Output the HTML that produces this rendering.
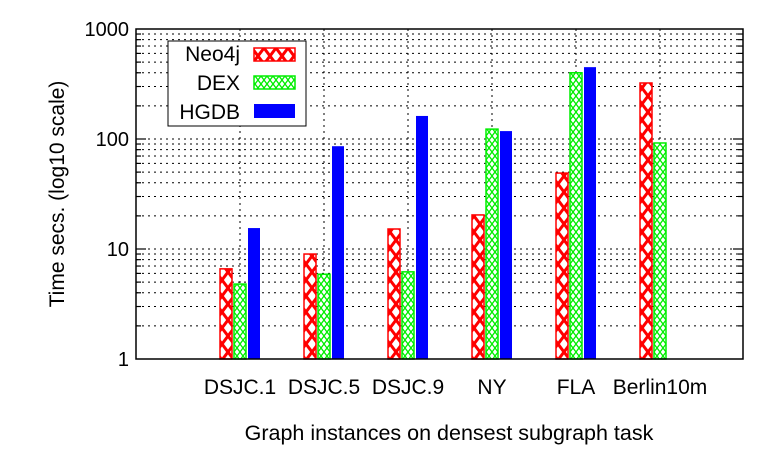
<!DOCTYPE html>
<html><head><meta charset="utf-8"><style>
body{margin:0;background:#fff;}
svg text{font-family:"Liberation Sans",sans-serif;fill:#000;}
</style></head><body>
<svg id="chart" width="773" height="466" viewBox="0 0 773 466" xmlns="http://www.w3.org/2000/svg">
<defs>
<pattern id="pRed" patternUnits="userSpaceOnUse" width="12" height="16">
<path d="M0,0 L12,16 M12,0 L0,16" stroke="#f00" stroke-width="3"/>
</pattern>
<pattern id="pGreen" patternUnits="userSpaceOnUse" width="6" height="8">
<path d="M0,0 L6,8 M6,0 L0,8" stroke="#0e0" stroke-width="1.3"/>
</pattern>
</defs>
<g id="grid"></g>
<g id="bars"></g>
<rect x="136" y="29" width="607" height="330" fill="none" stroke="#000" stroke-width="1.5"/>
<g id="ticks"></g>
<text transform="translate(64,194) rotate(-90)" text-anchor="middle" font-size="21">Time secs. (log10 scale)</text>
<text x="449" y="440" text-anchor="middle" font-size="21.5">Graph instances on densest subgraph task</text>
<g>
<rect x="168" y="41" width="138" height="85" fill="#fff" stroke="#000" stroke-width="1"/>
<g><text x="240" y="61" text-anchor="end" font-size="21">Neo4j</text><rect x="254" y="48" width="41" height="13" fill="#fff"/><rect x="254" y="48" width="41" height="13" fill="url(#pRed)" stroke="#f00" stroke-width="1.5"/></g>
<g><text x="240" y="90" text-anchor="end" font-size="21">DEX</text><rect x="254" y="76" width="41" height="13" fill="url(#pGreen)" stroke="#0e0" stroke-width="1.5"/></g>
<g><text x="240" y="119" text-anchor="end" font-size="21">HGDB</text><rect x="254" y="104" width="41" height="14" fill="#00f"/></g>
</g>
</svg>
<script>
const categories=["DSJC.1","DSJC.5","DSJC.9","NY","FLA","Berlin10m"];
const neo4j=[6.6,9,15.2,20.4,49,323];
const dex=[4.8,5.9,6.2,123,400,92];
const hgdb=[15.5,86,162,118,450,null];
const yTicks=[1,10,100,1000];
const ns="http://www.w3.org/2000/svg";
const X0=240,STEP=84,Y1=359,DEC=110;
const xs=i=>X0+STEP*i;
const ys=v=>Y1-Math.log10(v)*DEC;
function mk(tag,attrs,parent){const e=document.createElementNS(ns,tag);for(const k in attrs)e.setAttribute(k,attrs[k]);parent.appendChild(e);return e;}
const grid=document.getElementById('grid'),ticks=document.getElementById('ticks'),bars=document.getElementById('bars');
for(let d=0;d<3;d++){for(let m=1;m<=9;m++){if(d===0&&m===1)continue;const y=ys(m*Math.pow(10,d));
const l=mk('line',{x1:136,x2:743,y1:y,y2:y,stroke:'#000','stroke-width':1,'stroke-dasharray':'2,4'},grid);

const len=m===1?10:5;
mk('line',{x1:136,x2:136+len,y1:y,y2:y,stroke:'#000','stroke-width':1.2},ticks);
mk('line',{x1:743-len,x2:743,y1:y,y2:y,stroke:'#000','stroke-width':1.2},ticks);}}
yTicks.forEach(v=>{const t=mk('text',{x:129,y:ys(v)+7,'text-anchor':'end','font-size':20},ticks);t.textContent=v;
});
categories.forEach((c,i)=>{const x=xs(i);
const l=mk('line',{x1:x,x2:x,y1:29,y2:359,stroke:'#000','stroke-width':1,'stroke-dasharray':'2,4'},grid);

const t=mk('text',{x:x,y:394,'text-anchor':'middle','font-size':21},ticks);t.textContent=c;
});
const series=[[neo4j,'url(#pRed)','#f00',-20,'neo4j'],[dex,'url(#pGreen)','#0e0',-6,'dex'],[hgdb,'#00f',null,8,'hgdb']];
series.forEach(([vals,fill,stroke,off,name])=>{vals.forEach((v,i)=>{if(v==null)return;const y=ys(v);const x=xs(i)+off;
if(stroke){const bg=mk('rect',{x:x,y:y,width:12,height:Y1-y,fill:'#fff'},bars);}
const r=mk('rect',{x:x,y:y,width:12,height:Y1-y,fill:fill},bars);
if(stroke){r.setAttribute('stroke',stroke);r.setAttribute('stroke-width',1.5);}

});});
</script>
</body></html>
